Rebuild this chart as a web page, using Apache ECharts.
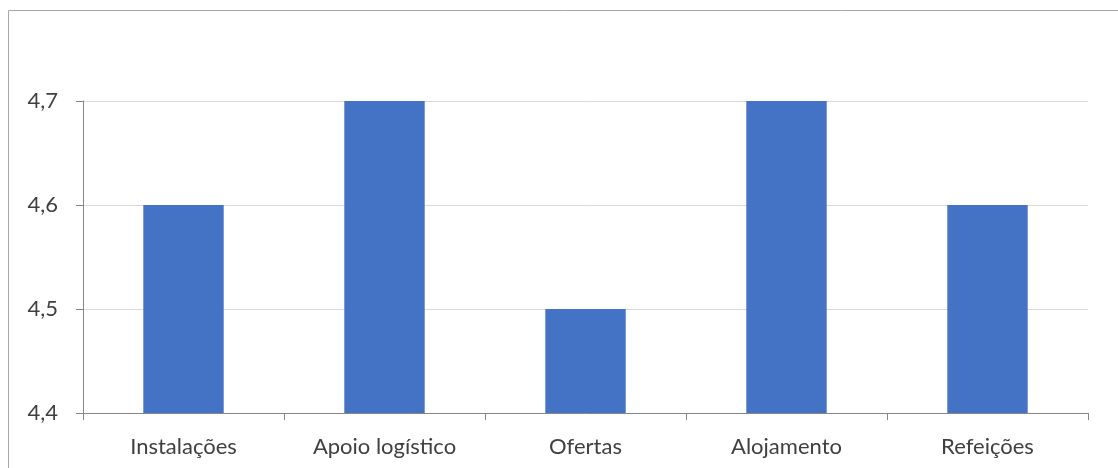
<!DOCTYPE html>
<html><head><meta charset="utf-8">
<script src="https://cdn.jsdelivr.net/npm/echarts@6/dist/echarts.min.js"></script>
<style>html,body{margin:0;padding:0;background:#fff}#c{width:1118px;height:468px}</style>
</head><body><div id="c"></div>
<script>
const categories = ['Instalações', 'Apoio logístico', 'Ofertas', 'Alojamento', 'Refeições'];
const values = [4.6, 4.7, 4.5, 4.7, 4.6];
const yTicks = [4.4, 4.5, 4.6, 4.7];

const chart = echarts.init(document.getElementById('c'), null, {renderer: 'canvas'});
chart.setOption({
  animation: false,
  backgroundColor: '#fff',
  graphic: [{
    type: 'rect', shape: {x: 8.5, y: 10.5, width: 1200, height: 600},
    style: {fill: 'none', stroke: '#a6a6a6', lineWidth: 1}, silent: true
  }],
  grid: {left: 83, right: 30, top: 101, bottom: 55},
  xAxis: {
    type: 'category', data: categories,
    axisLine: {lineStyle: {color: '#868686', width: 1}},
    axisTick: {show: true, alignWithLabel: false, length: 7, lineStyle: {color: '#868686'}},
    axisLabel: {color: '#404040', fontSize: 22, fontFamily: 'Lato', margin: 23}
  },
  yAxis: {
    type: 'value', min: yTicks[0], max: yTicks[yTicks.length - 1], interval: 0.1,
    axisLine: {show: true, lineStyle: {color: '#868686', width: 1}},
    axisTick: {show: true, length: 7, lineStyle: {color: '#868686'}},
    splitLine: {show: true, lineStyle: {color: '#d9d9d9', width: 1}},
    axisLabel: {color: '#404040', fontSize: 22, fontFamily: 'Lato', margin: 25,
      formatter: v => v.toFixed(1).replace('.', ',')}
  },
  series: [{
    type: 'bar', data: values, barWidth: '40%',
    itemStyle: {color: '#4472c4'}
  }]
});
</script></body></html>
